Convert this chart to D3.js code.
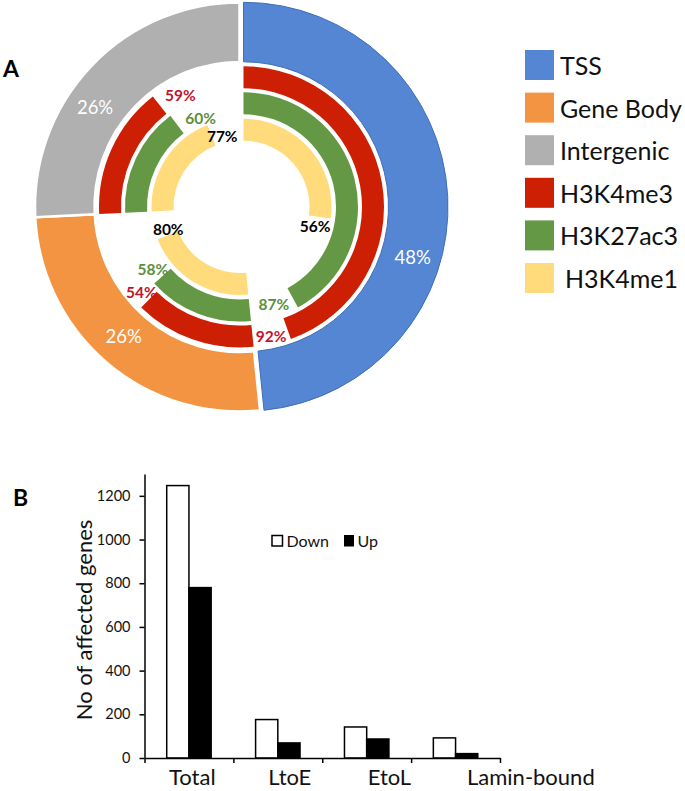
<!DOCTYPE html>
<html>
<head>
<meta charset="utf-8">
<script src="https://cdn.jsdelivr.net/npm/d3@7"></script>
<style>
  body { margin: 0; background: #fff; }
  svg { display: block; font-family: Lato, "Open Sans", sans-serif; }
</style>
</head>
<body>
<div id="chart"></div>
<script>
// ---- panel A data ----
const regions = ['TSS', 'Gene Body', 'Intergenic'];
const regionShare = [48.4, 25.8, 25.8];
const marks = ['H3K4me3', 'H3K27ac3', 'H3K4me1'];
const h3k4me3Pct = [92, 54, 59];
const h3k27acPct = [87, 58, 60];
const h3k4me1Pct = [56, 80, 77];

// ---- panel B data ----
const groups = ['Total', 'LtoE', 'EtoL', 'Lamin-bound'];
const downCounts = [1247, 176, 142, 92];
const upCounts = [780, 69, 87, 20];
const yTicks = [0, 200, 400, 600, 800, 1000, 1200];

const width = 685;
const height = 791;

const svg = d3.select('#chart')
  .append('svg')
  .attr('width', width)
  .attr('height', height);

// ================= A: nested doughnut =================
const cx = 239.5, cy = 207;
const regionColors = ['#5586d3', '#f39442', '#b0b0b0'];
const markColors = ['#cd1f03', '#659844', '#ffdb7c'];
const markLabelColors = ['#c0152b', '#5b8f3b', '#000'];
const ringRadii = [[118.5, 140.5], [92.5, 114.5], [66, 88]];
const markPcts = [h3k4me3Pct, h3k27acPct, h3k4me1Pct];
const explode = [4, 0, 0];

// hand placed label nudges (as in the original figure)
const outerNudge = [[-5, 59], [-2, -3], [-18, 20]];
const ringNudge = [
  [[-1, 3], [20, 32], [-17, 10]],
  [[0, -2], [9, 23], [-6, 9]],
  [[18, -36], [4, 6], [-3, 5]]
];

const pie = d3.pie().sort(null).value(d => d);
const slices = pie(regionShare);

const outerArc = d3.arc().innerRadius(145).outerRadius(204.5);

const donut = svg.append('g')
  .attr('transform', `translate(${cx},${cy})`);

const sliceG = donut.selectAll('.slice')
  .data(slices)
  .enter()
  .append('g')
  .attr('class', 'slice')
  .attr('transform', (d, i) => {
    const a = (d.startAngle + d.endAngle) / 2;
    return `translate(${explode[i] * Math.sin(a)},${-explode[i] * Math.cos(a)})`;
  });

sliceG.append('path')
  .attr('d', outerArc)
  .attr('fill', (d, i) => regionColors[i])
  .attr('stroke', (d, i) => i === 0 ? '#3f6fb8' : '#fff')
  .attr('stroke-width', (d, i) => i === 0 ? 1 : 2.5);

sliceG.append('text')
  .attr('x', (d, i) => 174.5 * Math.sin((d.startAngle + d.endAngle) / 2) + outerNudge[i][0])
  .attr('y', (d, i) => -174.5 * Math.cos((d.startAngle + d.endAngle) / 2) + outerNudge[i][1])
  .attr('text-anchor', 'middle')
  .attr('dominant-baseline', 'central')
  .attr('fill', '#fff')
  .attr('font-size', '18.5px')
  .text((d, i) => Math.round(regionShare[i]) + '%');

// inner rings: each region gets its share, coloured only for the marked fraction
markPcts.forEach((pcts, k) => {
  const [r0, r1] = ringRadii[k];
  const arc = d3.arc().innerRadius(r0).outerRadius(r1);
  const rm = (r0 + r1) / 2;

  sliceG.append('path')
    .attr('d', (d, i) => arc({
      startAngle: d.startAngle,
      endAngle: d.startAngle + (d.endAngle - d.startAngle) * pcts[i] / 100
    }))
    .attr('fill', markColors[k]);

  sliceG.append('text')
    .attr('x', (d, i) => {
      const end = d.startAngle + (d.endAngle - d.startAngle) * pcts[i] / 100;
      const a = (end + d.endAngle) / 2;
      return rm * Math.sin(a) + ringNudge[k][i][0];
    })
    .attr('y', (d, i) => {
      const end = d.startAngle + (d.endAngle - d.startAngle) * pcts[i] / 100;
      const a = (end + d.endAngle) / 2;
      return -rm * Math.cos(a) + ringNudge[k][i][1];
    })
    .attr('text-anchor', 'middle')
    .attr('dominant-baseline', 'central')
    .attr('fill', markLabelColors[k])
    .attr('font-size', '15.5px')
    .attr('font-weight', 'bold')
    .text((d, i) => pcts[i] + '%');
});

svg.append('text')
  .attr('x', 3)
  .attr('y', 77)
  .attr('font-size', '23px')
  .attr('font-weight', 'bold')
  .text('A');

// legend A
const legendItems = regions.concat(marks);
const legendColors = regionColors.concat(markColors);
const legA = svg.append('g');
legendItems.forEach((name, i) => {
  const y0 = 50 + i * 42.6;
  legA.append('rect')
    .attr('x', 525).attr('y', y0)
    .attr('width', 29).attr('height', 30)
    .attr('fill', legendColors[i]);
  legA.append('text')
    .attr('x', name === 'H3K4me1' ? 565 : 560)
    .attr('y', y0 + 15)
    .attr('dominant-baseline', 'central')
    .attr('font-size', '25px')
    .attr('fill', '#111')
    .text(name);
});

// ================= B: grouped bars =================
const x = d3.scaleBand().domain(groups).range([144.5, 500]).padding(0);
const y = d3.scaleLinear().domain([0, 1300]).range([758, 474]);
const sub = d3.scaleBand().domain(['Down', 'Up'])
  .range([x.step() * 0.25, x.step() * 0.75]);

const bars = svg.append('g');
groups.forEach((g, i) => {
  [['Down', downCounts[i], '#fff'], ['Up', upCounts[i], '#000']].forEach(([k, v, c]) => {
    bars.append('rect')
      .attr('x', x(g) + sub(k))
      .attr('y', y(v))
      .attr('width', sub.bandwidth())
      .attr('height', y(0) - y(v))
      .attr('fill', c)
      .attr('stroke', '#000')
      .attr('stroke-width', 1.5);
  });
});

const yAxis = svg.append('g')
  .attr('transform', 'translate(144.5,0)')
  .call(d3.axisLeft(y).tickValues(yTicks).tickFormat(d3.format('d'))
    .tickSize(5).tickSizeOuter(0).tickPadding(9));
yAxis.selectAll('text').attr('font-size', '14.5px').attr('font-family', 'Lato, sans-serif').attr('fill', '#111');

// x axis ticks sit on the group boundaries
const xEdge = d3.scaleLinear().domain([0, groups.length]).range(x.range());
svg.append('g')
  .attr('transform', 'translate(0,758)')
  .call(d3.axisBottom(xEdge).tickValues(d3.range(groups.length + 1)).tickSize(5).tickSizeOuter(0).tickFormat(''));

svg.selectAll('.domain, .tick line')
  .attr('stroke', '#000')
  .attr('stroke-width', 1.5);

// category labels were typed at even spacing, not centred on the groups
const labelX = d3.scalePoint().domain(groups).range([169, 467]);
svg.append('g').selectAll('text')
  .data(groups)
  .enter()
  .append('text')
  .attr('x', d => labelX(d))
  .attr('y', 785)
  .attr('font-size', '22px')
  .attr('fill', '#111')
  .text(d => d);

svg.append('text')
  .attr('transform', 'translate(91.5,620) rotate(-90)')
  .attr('text-anchor', 'middle')
  .attr('font-size', '22px')
  .attr('fill', '#111')
  .text('No of affected genes');

svg.append('text')
  .attr('x', 13)
  .attr('y', 506)
  .attr('font-size', '23px')
  .attr('font-weight', 'bold')
  .text('B');

// legend B
const legB = svg.append('g');
legB.append('rect').attr('x', 272).attr('y', 535.5).attr('width', 10.5).attr('height', 10.5)
  .attr('fill', '#fff').attr('stroke', '#000').attr('stroke-width', 1.5);
legB.append('text').attr('x', 286.5).attr('y', 546.5).attr('font-size', '16px').attr('fill', '#111').text('Down');
legB.append('rect').attr('x', 344).attr('y', 535).attr('width', 10).attr('height', 11.5)
  .attr('fill', '#000');
legB.append('text').attr('x', 357.5).attr('y', 546.5).attr('font-size', '16px').attr('fill', '#111').text('Up');
</script>
</body>
</html>
